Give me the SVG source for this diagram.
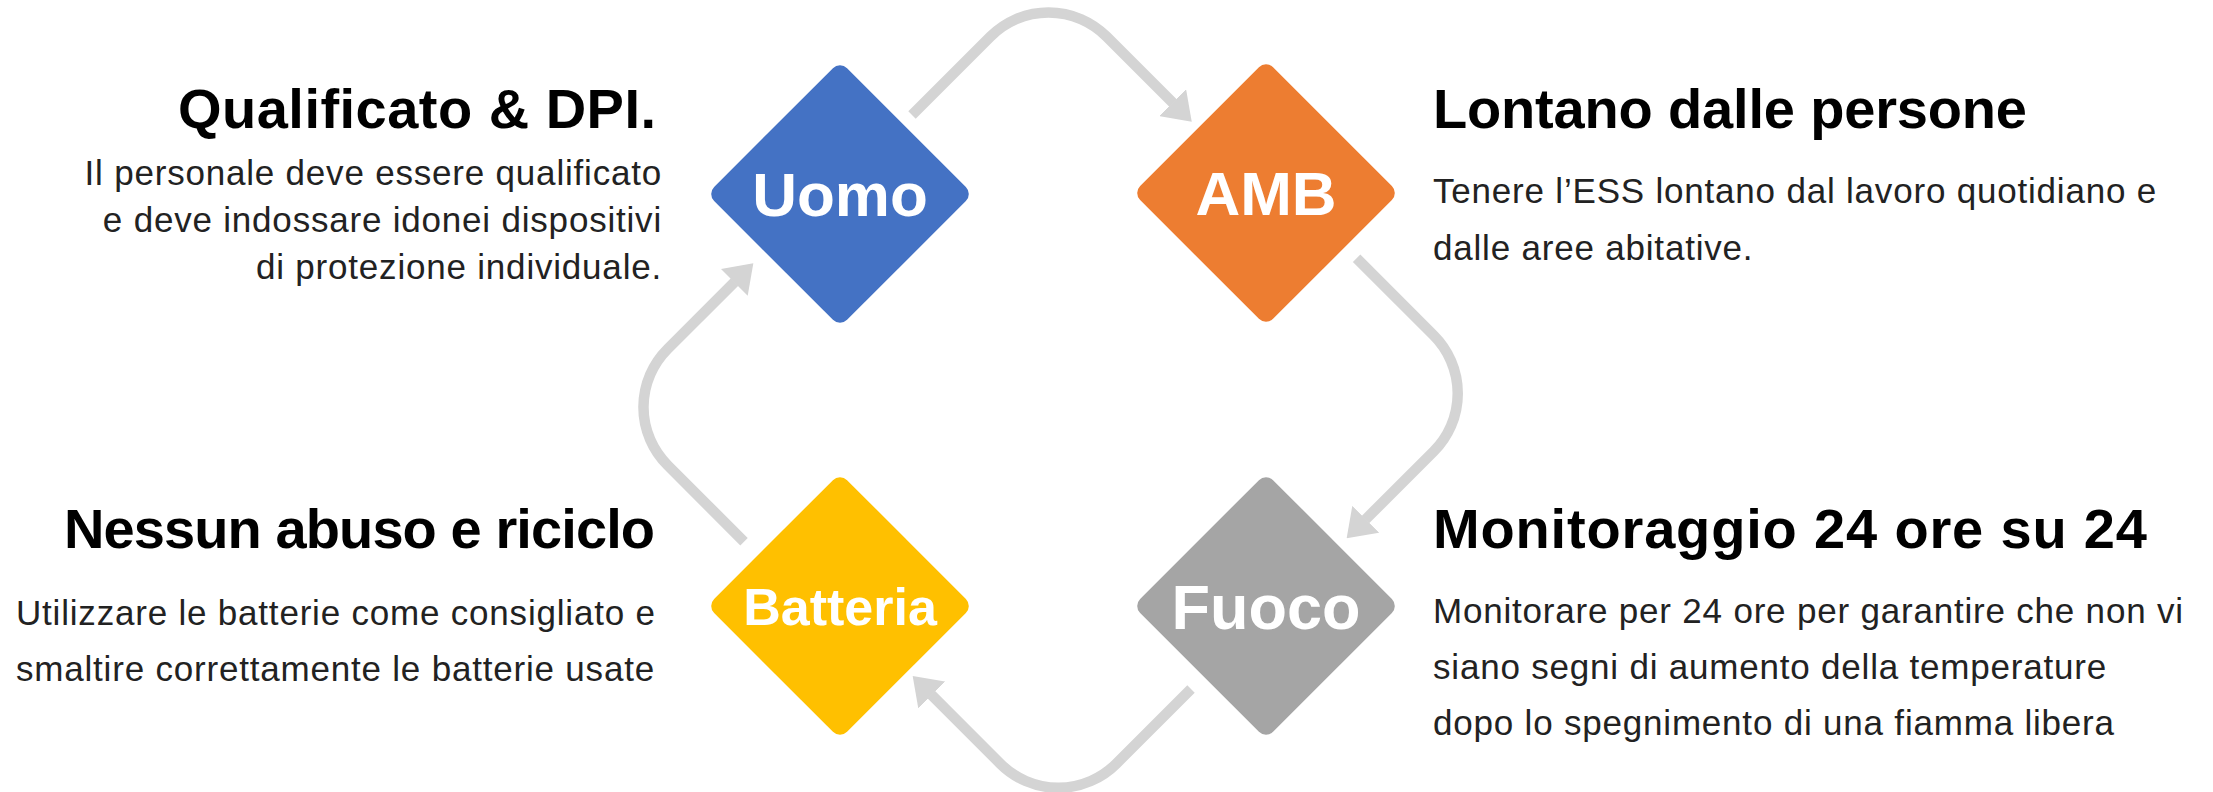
<svg xmlns="http://www.w3.org/2000/svg" width="2213" height="792" viewBox="0 0 2213 792">
  <style>
    .conn { fill: none; stroke: #D4D4D4; stroke-width: 10.5; stroke-linecap: butt; stroke-linejoin: round; marker-end: url(#ah); }
    .lbl { font-family: "Liberation Sans", Arial, sans-serif; font-weight: bold; fill: #FFFFFF; text-anchor: middle; }
    .hd { font-family: "Liberation Sans", Arial, sans-serif; font-weight: bold; font-size: 56px; fill: #000000; }
    .bd { font-family: "Liberation Sans", Arial, sans-serif; font-size: 35px; letter-spacing: 0.8px; fill: #222222; }
    .end { text-anchor: end; }
  </style>
  <defs>
    <marker id="ah" markerUnits="userSpaceOnUse" viewBox="0 0 27 38" markerWidth="27" markerHeight="38" refX="0.5" refY="19" orient="auto">
      <path d="M0,0 L27,19 L0,38 Z" fill="#D4D4D4"/>
    </marker>
    <rect id="dia" x="-94" y="-94" width="188" height="188" rx="10" ry="10" transform="rotate(45)"/>
  </defs>
  <rect width="2213" height="792" fill="#FFFFFF"/>

  <g id="connectors">
    <path class="conn" d="M912,115 L990.5,36.5 A82,82 0 0 1 1106.5,36.5 L1173,103"/>
    <path class="conn" d="M1356.6,258.3 L1433.7,335.4 A82,82 0 0 1 1433.7,451.4 L1365.4,519.6"/>
    <path class="conn" d="M1191,689 L1116.3,763.7 A82,82 0 0 1 1000.3,763.7 L931.4,694.7"/>
    <path class="conn" d="M744,541.7 L667.5,465.1 A82,82 0 0 1 667.5,349.1 L734.6,282"/>
  </g>

  <g id="node-uomo">
    <use href="#dia" x="840" y="194" fill="#4472C4"/>
    <text class="lbl" x="840" y="216" font-size="62">Uomo</text>
  </g>
  <g id="node-amb">
    <use href="#dia" x="1266" y="193" fill="#ED7D31"/>
    <text class="lbl" x="1266" y="215" font-size="62">AMB</text>
  </g>
  <g id="node-fuoco">
    <use href="#dia" x="1266" y="606" fill="#A5A5A5"/>
    <text class="lbl" x="1266" y="629" font-size="63">Fuoco</text>
  </g>
  <g id="node-batteria">
    <use href="#dia" x="840" y="606" fill="#FFC000"/>
    <text class="lbl" x="840" y="625" font-size="52">Batteria</text>
  </g>

  <g id="text-uomo">
    <text class="hd end" x="656" y="128" textLength="478">Qualificato &amp; DPI.</text>
    <text class="bd end" x="662" y="185">Il personale deve essere qualificato</text>
    <text class="bd end" x="662" y="232">e deve indossare idonei dispositivi</text>
    <text class="bd end" x="662" y="279">di protezione individuale.</text>
  </g>
  <g id="text-amb">
    <text class="hd" x="1433" y="128" textLength="594">Lontano dalle persone</text>
    <text class="bd" x="1433" y="203">Tenere l’ESS lontano dal lavoro quotidiano e</text>
    <text class="bd" x="1433" y="260">dalle aree abitative.</text>
  </g>
  <g id="text-fuoco">
    <text class="hd" x="1433" y="548" textLength="714">Monitoraggio 24 ore su 24</text>
    <text class="bd" x="1433" y="623">Monitorare per 24 ore per garantire che non vi</text>
    <text class="bd" x="1433" y="679">siano segni di aumento della temperature</text>
    <text class="bd" x="1433" y="735">dopo lo spegnimento di una fiamma libera</text>
  </g>
  <g id="text-batteria">
    <text class="hd end" x="655" y="548" textLength="591">Nessun abuso e riciclo</text>
    <text class="bd" x="16" y="625">Utilizzare le batterie come consigliato e</text>
    <text class="bd" x="16" y="681">smaltire correttamente le batterie usate</text>
  </g>
</svg>
